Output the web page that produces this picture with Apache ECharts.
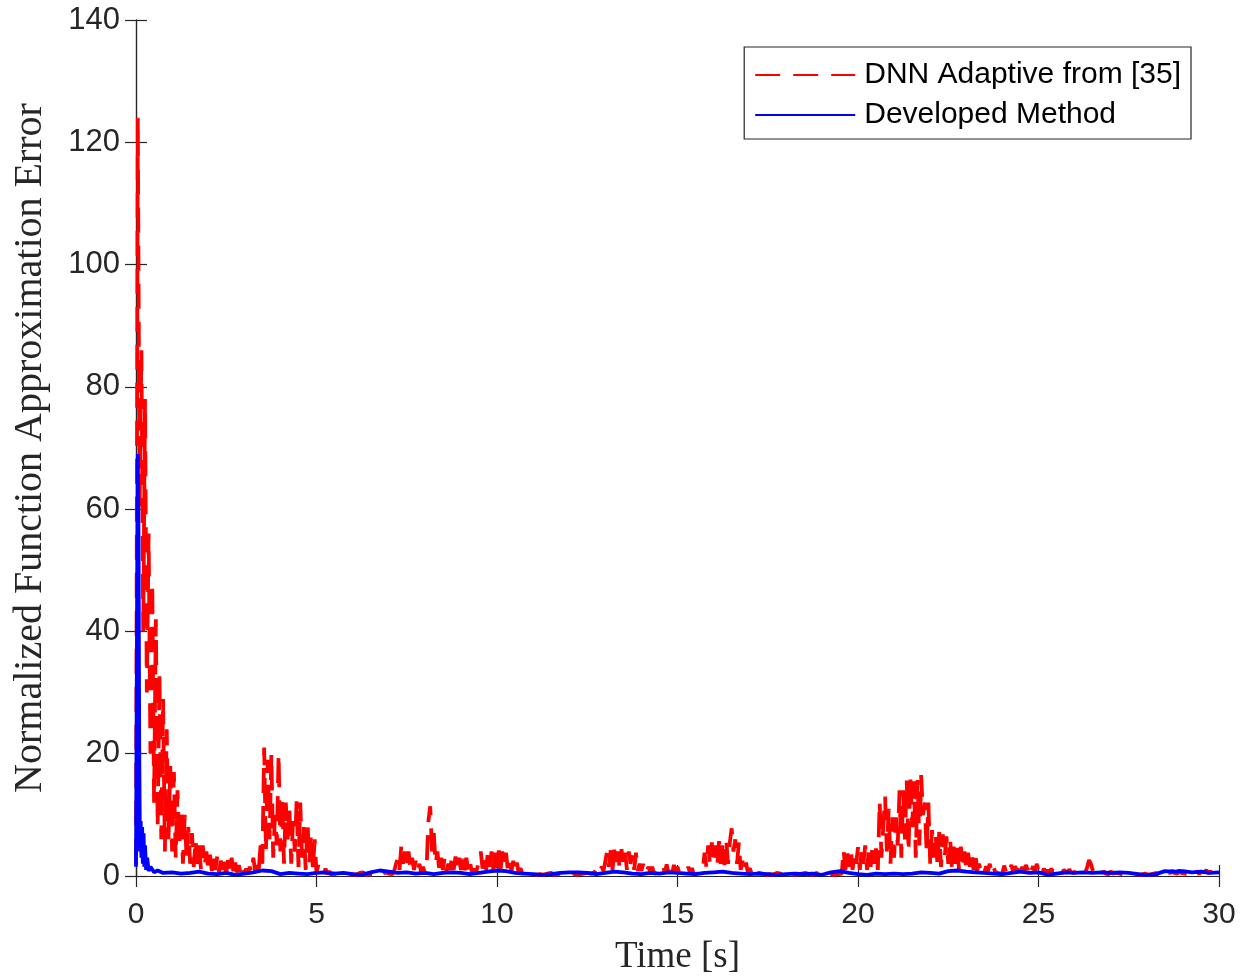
<!DOCTYPE html>
<html>
<head>
<meta charset="utf-8">
<script src="https://cdn.jsdelivr.net/npm/echarts@6/dist/echarts.min.js"></script>
<style>html,body{margin:0;padding:0;background:#fff}#c{width:1249px;height:980px}</style>
</head>
<body>
<div id="c"></div>
<script>
// ---- data ----
const xTicks = [0, 5, 10, 15, 20, 25, 30];
const yTicks = [0, 20, 40, 60, 80, 100, 120, 140];
const seriesNames = ['DNN Adaptive from [35]', 'Developed Method'];
const xTitle = 'Time [s]';
const yTitle = 'Normalized Function Approximation Error';

// red series ("DNN Adaptive from [35]") sampled every 0.05 s
const redStep = 0.05;
const red0to5 = [
  2, 124, 60, 86, 40, 78, 30, 56, 20, 48, 12, 42, 8, 33, 6, 29, 4, 24, 6, 18,
  4, 17, 3, 14, 5, 11, 2, 10, 3, 8, 2, 7, 1.5, 6, 2, 5, 1, 5, 1.5, 4,
  1, 3.5, 0.8, 3, 1, 3.2, 0.6, 2.5, 1, 2.8, 0.5, 2.6, 0.8, 3, 0.4, 2.2, 0.6, 1.8, 0.3, 1.5,
  0.5, 1.2, 0.3, 1.5, 0.5, 3, 0.8, 2.5, 1, 5, 2, 21, 4, 19, 6, 20, 3, 10, 5, 20,
  4, 13, 2, 12, 6, 11, 2, 9, 4, 12.5, 1.5, 12, 3, 8, 1, 9, 2, 7, 1, 6
];
const red5to10 = [
  0.5, 1.8, 0.3, 0.6, 0.2, 1.2, 0.3, 0.8, 0.2, 0.5, 0.4, 0.7, 0.2, 0.5, 0.3, 0.6, 0.4, 0.6, 0.2, 0.5,
  0.3, 0.6, 0.2, 0.4, 0.5, 0.3, 0.6, 0.2, 0.4, 0.3, 0.5, 0.2, 0.6, 0.4, 0.3, 0.5, 0.2, 0.4, 0.6, 0.3,
  0.4, 0.6, 0.3, 0.8, 0.5, 3, 1, 5, 2, 4, 1.5, 4, 1.2, 3, 1, 2.5, 0.8, 2, 0.6, 1.5,
  0.5, 1.5, 9, 11.4, 4, 7, 2, 4, 1, 3, 1, 3, 0.8, 2, 1, 3, 1, 3.2, 1.2, 3,
  1, 2.8, 0.8, 3, 1, 2.5, 0.6, 1.2, 0.5, 1.2, 1, 4, 1.2, 3.5, 1, 4.2, 1.5, 4, 1, 3.8
];
const red10to15 = [
  1.2, 4.2, 1, 4, 1.5, 3.8, 1, 2.5, 0.8, 2.5, 0.6, 2.2, 0.5, 1.3, 0.4, 0.6, 0.3, 0.5, 0.2, 0.4,
  0.3, 0.5, 0.2, 0.4, 0.3, 0.6, 0.2, 0.3, 0.4, 0.2, 0.5, 0.3, 0.2, 0.4, 0.3, 0.2, 0.5, 0.3, 0.2, 0.4,
  0.3, 0.2, 0.4, 0.3, 0.2, 0.5, 0.3, 0.2, 0.4, 0.3, 0.5, 0.2, 0.4, 0.3, 0.6, 0.4, 1.6, 0.8, 1.5, 0.8,
  1, 4, 1.5, 4.2, 1, 4.3, 2, 4, 1, 4.4, 1.5, 3.8, 1, 4, 2, 3.5, 1, 3.8, 0.8, 2,
  0.8, 2, 0.4, 0.3, 1.5, 0.5, 1.5, 0.4, 0.3, 0.5, 0.2, 0.4, 1.5, 0.6, 1.9, 0.5, 1.6, 0.4, 1.8, 0.6
];
const red15to20 = [
  1.5, 0.5, 0.3, 0.4, 0.3, 0.6, 1.5, 0.4, 1.3, 0.3, 0.5, 0.4, 0.6, 0.5, 1, 3.8, 1.5, 5, 2, 5.5,
  2, 5, 1.5, 5.7, 2, 5.2, 1.8, 6, 2, 5.5, 7.8, 4, 6, 2, 5.5, 1, 2.5, 0.8, 2.2, 0.5,
  1.3, 0.5, 1.2, 0.4, 0.3, 0.5, 0.2, 0.4, 0.3, 0.2, 0.5, 0.3, 0.4, 0.2, 0.3, 0.5, 0.2, 0.4, 0.3, 0.2,
  0.4, 0.3, 0.2, 0.5, 0.3, 0.2, 0.4, 0.3, 0.2, 0.4, 0.3, 0.5, 0.2, 0.3, 0.4, 0.2, 0.3, 0.5, 0.3, 0.2,
  0.3, 0.4, 0.2, 0.3, 0.5, 0.3, 0.4, 0.2, 0.5, 0.3, 0.6, 0.4, 4.3, 1, 4, 1.5, 4.5, 1, 3.8, 2
];
const red20to25 = [
  4.7, 1, 4.2, 2, 5, 1, 4.4, 1.5, 4.7, 2, 4.5, 1, 12.2, 3, 8, 13, 4, 11, 2, 9.6,
  3, 9.6, 5, 14, 3, 14, 6, 15.7, 4, 16.5, 8, 15.5, 3, 15.7, 5, 16.5, 10, 12, 4, 12,
  2, 7.5, 3, 7, 2, 7.2, 1.5, 6.8, 3, 6.5, 2, 6.2, 1.5, 4.8, 2, 4.6, 1, 4.8, 1.2, 4,
  1, 3.8, 1.5, 3.5, 1, 4, 0.8, 2, 1, 1.8, 0.6, 1.6, 0.8, 2, 0.5, 1.5, 0.7, 0.6, 0.4, 0.7,
  0.5, 1.7, 0.6, 1.5, 1, 1.8, 0.6, 1.6, 0.8, 2, 0.7, 1.5, 0.6, 1.8, 1, 2, 0.8, 1.6, 0.6, 2
];
const red25to30 = [
  0.8, 1.5, 0.4, 1.2, 0.6, 1, 0.5, 1.2, 0.8, 0.5, 1, 0.6, 1.2, 0.4, 1, 0.7, 0.5, 1.1, 0.6, 0.9,
  0.5, 1.2, 0.6, 0.4, 0.5, 0.3, 0.6, 1.5, 2.6, 2, 1, 0.5, 0.3, 0.8, 0.5, 0.3, 0.8, 0.4, 0.6, 0.3,
  0.8, 0.4, 0.3, 0.5, 0.2, 0.4, 0.3, 0.2, 0.4, 0.3, 0.5, 0.2, 0.3, 0.4, 0.2, 0.3, 0.5, 0.2, 0.3, 0.4,
  0.3, 0.2, 0.4, 0.3, 0.2, 0.5, 0.3, 0.2, 0.4, 0.3, 0.6, 0.3, 0.8, 0.4, 0.9, 0.5, 0.7, 0.4, 1, 0.5,
  0.8, 0.4, 0.7, 0.3, 0.9, 0.5, 0.6, 0.4, 0.8, 0.3, 0.7, 0.5, 0.6, 1, 0.4, 0.8, 0.5, 0.3, 0.6, 0.4,
  0.5
];

// blue series ("Developed Method"): detailed start, then every 0.25 s
const blueStart = [
  [0, 1.5], [0.02, 30], [0.05, 69], [0.07, 55], [0.09, 20], [0.11, 4], [0.13, 9], [0.15, 3],
  [0.17, 8], [0.19, 2], [0.21, 7], [0.23, 1.5], [0.25, 5], [0.28, 1], [0.31, 3], [0.35, 0.8],
  [0.4, 1.5], [0.5, 0.6], [0.6, 0.9], [0.75, 0.5], [1.0, 0.6]
];
const blueTailStart = 1.25, blueTailStep = 0.25;
const blueTail = [
  0.4, 0.5, 0.7, 0.4, 0.3, 0.5, 0.2, 0.4, 0.6, 0.9, 0.8, 0.3, 0.5, 0.4, 0.3, 0.5, 0.6, 0.4, 0.5,
  0.3, 0.2, 0.6, 0.9, 0.7, 0.5, 0.6, 0.4, 0.5, 0.3, 0.5, 0.6, 0.5, 0.3, 0.5, 0.7, 0.9, 0.8, 0.5,
  0.4, 0.3, 0.2, 0.3, 0.5, 0.6, 0.6, 0.5, 0.3, 0.5, 0.7, 0.6, 0.4, 0.3, 0.5, 0.4, 0.6, 0.5, 0.4,
  0.3, 0.5, 0.6, 0.7, 0.5, 0.4, 0.3, 0.4, 0.3, 0.2, 0.3, 0.4, 0.3, 0.4, 0.2, 0.6, 0.8, 0.5, 0.3,
  0.2, 0.4, 0.3, 0.4, 0.3, 0.4, 0.6, 0.5, 0.4, 0.8, 0.9, 0.7, 0.6, 0.5, 0.4, 0.3, 0.5, 0.7, 0.5,
  0.6, 0.2, 0.4, 0.6, 0.5, 0.6, 0.5, 0.6, 0.5, 0.6, 0.5, 0.3, 0.2, 0.3, 0.8, 0.7, 0.8, 0.6, 0.7,
  0.5, 0.6
];

// ---- build ----
const redVals = [].concat(red0to5, red5to10, red10to15, red15to20, red20to25, red25to30);
const redData = redVals.map((v, i) => [Math.round(i * redStep * 1000) / 1000, v]);
const blueData = blueStart.concat(blueTail.map((v, i) => [blueTailStart + i * blueTailStep, v]));

const axisColor = '#262626';
const tickFont = 'Liberation Sans, Arial, Helvetica, sans-serif';
const serifFont = 'Liberation Serif, Times New Roman, serif';

const chart = echarts.init(document.getElementById('c'), null, { renderer: 'canvas' });
const baseAxisLine = { show: true, lineStyle: { color: axisColor, width: 1.2 } };
const tickIn = { show: true, inside: true, length: 11, lineStyle: { color: axisColor, width: 1.2 } };

chart.setOption({
  animation: false,
  backgroundColor: '#ffffff',
  grid: { left: 136, right: 30, top: 20, bottom: 104, containLabel: false, outerBoundsMode: 'none' },
  legend: {
    orient: 'vertical',
    right: 58,
    top: 47,
    padding: [13, 10, 9, 10],
    itemGap: 10,
    itemWidth: 100,
    itemHeight: 16,
    borderColor: axisColor,
    borderWidth: 1.2,
    backgroundColor: '#fff',
    itemStyle: { opacity: 0 },
    textStyle: { fontFamily: tickFont, fontSize: 30, color: '#000', padding: [0, 0, 0, 4] },
    data: seriesNames
  },
  xAxis: [{
    type: 'value', min: xTicks[0], max: xTicks[xTicks.length - 1], interval: 5,
    axisLine: baseAxisLine, axisTick: tickIn, splitLine: { show: false },
    axisLabel: { color: axisColor, fontFamily: tickFont, fontSize: 30, margin: 24 },
    name: xTitle, nameLocation: 'middle', nameGap: 63,
    nameTextStyle: { fontFamily: serifFont, fontSize: 37, color: axisColor }
  }, {
    type: 'value', position: 'top', min: xTicks[0], max: xTicks[xTicks.length - 1], interval: 5,
    axisLine: baseAxisLine, axisTick: tickIn, axisLabel: { show: false }, splitLine: { show: false }
  }],
  yAxis: [{
    type: 'value', min: yTicks[0], max: yTicks[yTicks.length - 1], interval: 20,
    axisLine: baseAxisLine, axisTick: tickIn, splitLine: { show: false },
    axisLabel: { color: axisColor, fontFamily: tickFont, fontSize: 31, margin: 16 },
    name: yTitle, nameLocation: 'middle', nameGap: 86, nameRotate: 90,
    nameTextStyle: { fontFamily: serifFont, fontSize: 40, color: axisColor }
  }, {
    type: 'value', position: 'right', min: yTicks[0], max: yTicks[yTicks.length - 1], interval: 20,
    axisLine: baseAxisLine, axisTick: tickIn, axisLabel: { show: false }, splitLine: { show: false }
  }],
  series: [{
    name: seriesNames[0], type: 'line', data: redData, xAxisIndex: 0, yAxisIndex: 0,
    showSymbol: false, symbol: 'none', sampling: null, z: 2,
    lineStyle: { color: '#ff0000', width: 3.8, type: [25, 13] },
    itemStyle: { color: '#ff0000' }
  }, {
    name: seriesNames[1], type: 'line', data: blueData, xAxisIndex: 0, yAxisIndex: 0,
    showSymbol: false, symbol: 'none', z: 3,
    lineStyle: { color: '#0000ff', width: 3.8, type: 'solid' },
    itemStyle: { color: '#0000ff' }
  }]
});
</script>
</body>
</html>
